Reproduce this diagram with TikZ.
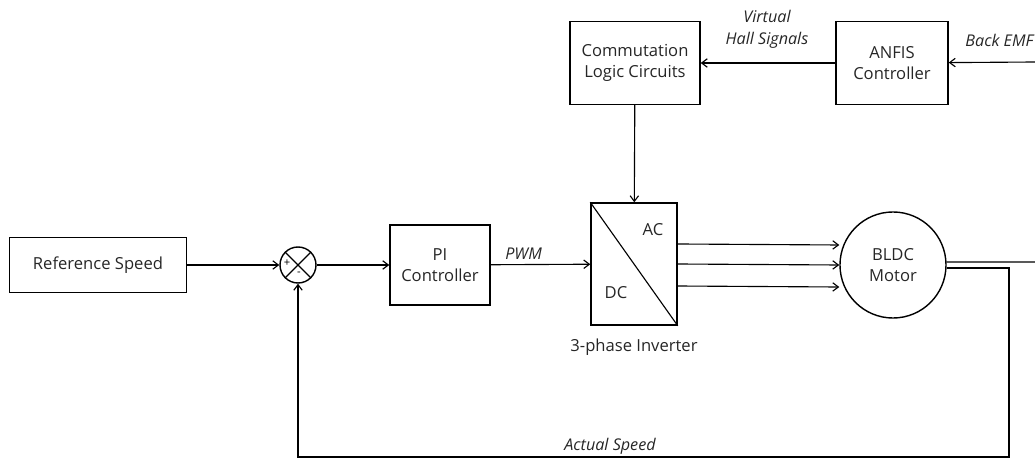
\documentclass[tikz,border=0pt]{standalone}
\usepackage{fontspec}
\setmainfont{Open Sans}
\usetikzlibrary{arrows.meta,positioning}

\tikzset{
  block/.style={draw, line width=1pt, text=black!85, align=center, font=\fontsize{11.8}{15}\selectfont},
  sig/.style={line width=0.8pt, -{Straight Barb[length=4pt,width=6pt]}},
  lbl/.style={text=black!85, font=\fontsize{11.5}{15.5}\selectfont\itshape, align=center}
}

\begin{document}
\begin{tikzpicture}[x=0.025cm, y=-0.025cm]
\useasboundingbox (0,0) rectangle (1035,459);
\node[block, minimum width=4.425cm, minimum height=1.375cm] (ref) at (98,265) {Reference Speed};
\node[draw, circle, line width=1pt, minimum size=0.9cm, inner sep=0pt] (sum) at (298,265) {};
\draw[line width=0.8pt] (sum.north west) -- (sum.south east) (sum.north east) -- (sum.south west);
\node[font=\fontsize{8}{9}\selectfont, inner sep=0pt] at (287,263) {+};
\node[font=\fontsize{8}{9}\selectfont, inner sep=0pt] at (299,274) {-};
\node[block, minimum width=2.5cm, minimum height=2cm] (pi) at (440,265) {PI\\Controller};
\node[block, minimum width=2.15cm, minimum height=3.05cm] (inv) at (634,264) {};
\draw[line width=0.8pt] (inv.north west) -- (inv.south east);
\node[block, draw=none] at (653,230) {AC};
\node[block, draw=none] at (616,293) {DC};
\node[block, draw=none] at (634,347) {3-phase Inverter};
\node[block, circle, minimum size=2.65cm, inner sep=0pt] (motor) at (893,265) {BLDC\\Motor};
\node[block, minimum width=3.25cm, minimum height=2.075cm] (comm) at (635,63) {Commutation\\Logic Circuits};
\node[block, minimum width=2.8cm, minimum height=2.075cm] (anfis) at (892,63) {ANFIS\\Controller};
\coordinate (emf) at (1035,62);
\coordinate (out) at (1035,262);
\coordinate (fb) at (1009,457);

\draw[sig] (ref) -- (sum);
\draw[sig] (sum) -- (pi);
\draw[sig] (pi) -- node[lbl, above, pos=0.33] {PWM} (inv);
\foreach \dy in {20,0,-22}
  \draw[sig] ([yshift=\dy*0.25mm]inv.east) -- ([yshift=\dy*0.25mm]motor.west);
\draw[line width=0.8pt] ([yshift=0.75mm]motor.east) -- (out);
\draw[sig] ([yshift=-0.75mm]motor.east) -| (fb) -| (sum.south);
\node[lbl] at (610,446) {Actual Speed};
\draw[sig] (comm) -- (inv);
\draw[sig] (anfis) -- (comm);
\node[lbl] at (767,29) {Virtual\\Hall Signals};
\draw[sig] (emf) -- (anfis);
\node[lbl, anchor=east, inner xsep=1pt] at (1035,40) {Back EMF};
\end{tikzpicture}
\end{document}
